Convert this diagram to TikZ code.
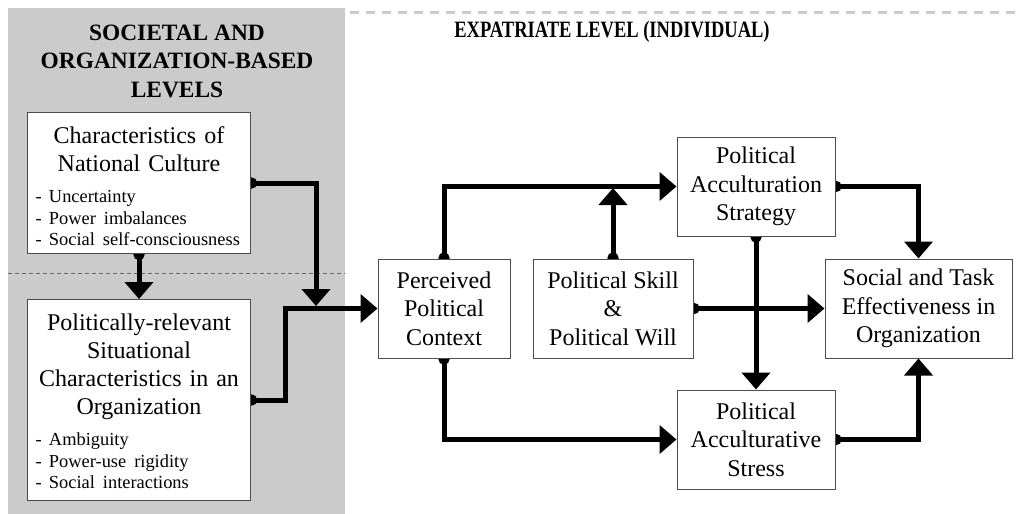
\documentclass[tikz,border=0pt]{standalone}
\usepackage{fontspec}
\setmainfont{Liberation Serif}
\usepackage{graphicx}
\usetikzlibrary{arrows.meta,backgrounds}
\definecolor{panelgray}{HTML}{CBCBCB}
\newcommand{\itemdash}{-\hspace{0.4em}}

\tikzset{
  head/.style={font=\fontsize{23.4}{28.5}\selectfont\bfseries, align=center, inner sep=0pt},
  box/.style={draw=black!70, line width=1pt, fill=white, align=center,
    font=\fontsize{24}{28.5}\selectfont, inner sep=0pt, minimum height=99pt},
  listbox/.style={draw=black!70, line width=1pt, fill=white, anchor=north west,
    inner xsep=8pt, inner ysep=0pt, text width=207pt, align=left,
    font=\fontsize{24}{28}\selectfont, text height=31pt},
  link/.style={line width=5pt, shorten <=-5pt,
    {Circle[length=11pt]}-{Triangle[length=17pt,width=28pt]}},
  topdash/.style={black!20, line width=3pt, dash pattern=on 9pt off 7pt},
  split/.style={black!60, line width=0.8pt, dash pattern=on 4pt off 3pt}
}

\begin{document}
\begin{tikzpicture}[x=1pt, y=-1pt]
\useasboundingbox (0,0) rectangle (1021,514);

\node[head] (org) at (177,61) {SOCIETAL AND\\ORGANIZATION-BASED\\LEVELS};
\node[head] (ind) at (612,32) {\scalebox{0.79}[1]{EXPATRIATE LEVEL (INDIVIDUAL)}};

\node[listbox, text depth=110pt] (nat) at (27,112)
  {{\centering Characteristics of\par National Culture\par}\vspace{9.5pt}%
   \fontsize{18.4}{21.5}\selectfont
   \itemdash Uncertainty\par \itemdash Power imbalances\par \itemdash Social self-consciousness\par};
\node[listbox, text depth=170pt] (sit) at (27,299)
  {{\centering Politically-relevant\par Situational\par Characteristics in an\par Organization\par}\vspace{9.5pt}%
   \fontsize{18.4}{21.5}\selectfont
   \itemdash Ambiguity\par \itemdash Power-use rigidity\par \itemdash Social interactions\par};

\node[box, minimum width=132pt] (ppc) at (444,308.5) {Perceived\\Political\\Context};
\node[box, minimum width=160pt] (skill) at (613,308.5) {Political Skill\\\&\\Political Will};
\node[box, minimum width=158pt] (pas) at (756,186.5) {Political\\Acculturation\\Strategy};
\node[box, minimum width=158pt] (stress) at (756,439.5) {Political\\Acculturative\\Stress};
\node[box, minimum width=187pt] (eff) at (918.5,308.5) {Social and Task\\Effectiveness in\\Organization};

\coordinate (merge) at (316,306);
\coordinate (up) at (613,188);

\begin{scope}[on background layer]
\fill[panelgray] (8,8) rectangle (345,514);
\draw[topdash] (350,12) -- (1021,12);
\draw[split] (8,273) -- (345,273);

\draw[link] (nat.south) -- (sit.north);
\draw[link] (nat.east) -| (merge);
\draw[link] (sit.east) -| (285,308.5) -- (ppc.west);
\draw[link] (ppc.north) |- (pas.west);
\draw[link] (skill.north) -- (up);
\draw[link] (ppc.south) |- (stress.west);
\draw[link] (skill.east) -- (eff.west);
\draw[link] (pas.south) -- (stress.north);
\draw[link] (pas.east) -| (eff.north);
\draw[link] (stress.east) -| (eff.south);
\end{scope}
\end{tikzpicture}
\end{document}
